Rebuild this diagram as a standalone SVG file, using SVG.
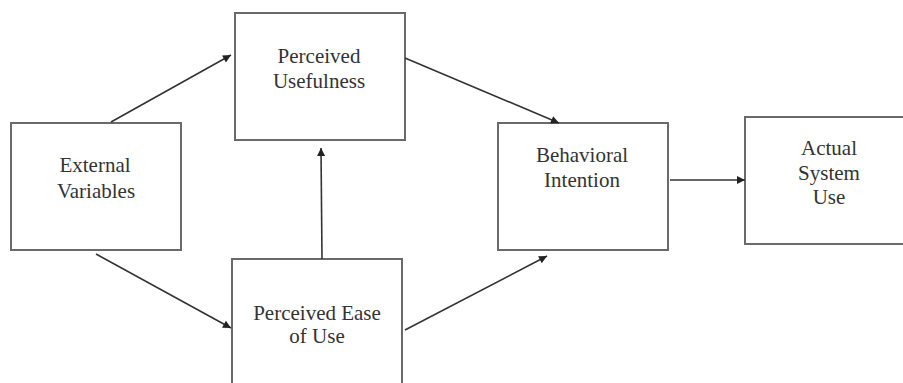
<svg xmlns="http://www.w3.org/2000/svg" width="903" height="383" viewBox="0 0 903 383">
<defs>
<marker id="ah" viewBox="0 0 10 10" refX="10" refY="5" markerWidth="9" markerHeight="8" markerUnits="userSpaceOnUse" orient="auto">
<path d="M0,0 L10,5 L0,10 z" fill="#222"/>
</marker>
<style>
.box{fill:#fff;stroke:#6a6a6a;stroke-width:2}
.lbl{font-family:"Liberation Serif","Times New Roman",serif;font-size:21px;fill:#333;text-anchor:middle}
.edge{stroke:#333;stroke-width:1.6;fill:none;marker-end:url(#ah)}
</style>
</defs>
<rect width="903" height="383" fill="#fff"/>
<g id="ev">
<rect class="box" x="11" y="123" width="170" height="127"/>
<text class="lbl" x="95" y="172">External</text>
<text class="lbl" x="96" y="198">Variables</text>
</g>
<g id="pu">
<rect class="box" x="235" y="13" width="170" height="127"/>
<text class="lbl" x="319" y="63">Perceived</text>
<text class="lbl" x="319" y="88">Usefulness</text>
</g>
<g id="peou">
<rect class="box" x="232" y="259" width="170" height="140"/>
<text class="lbl" x="317" y="320">Perceived Ease</text>
<text class="lbl" x="317" y="343">of Use</text>
</g>
<g id="bi">
<rect class="box" x="498" y="123" width="170" height="127"/>
<text class="lbl" x="582" y="162">Behavioral</text>
<text class="lbl" x="582" y="187">Intention</text>
</g>
<g id="asu">
<rect class="box" x="745" y="117" width="170" height="127"/>
<text class="lbl" x="829" y="155">Actual</text>
<text class="lbl" x="829" y="180">System</text>
<text class="lbl" x="829" y="204">Use</text>
</g>
<g id="connectors">
<line class="edge" x1="111" y1="122" x2="231" y2="55"/>
<line class="edge" x1="96" y1="254" x2="231" y2="328"/>
<line class="edge" x1="322" y1="259" x2="321" y2="148"/>
<line class="edge" x1="405" y1="58" x2="559" y2="123"/>
<line class="edge" x1="405" y1="330" x2="547" y2="256"/>
<line class="edge" x1="670" y1="180" x2="745" y2="180"/>
</g>
</svg>
